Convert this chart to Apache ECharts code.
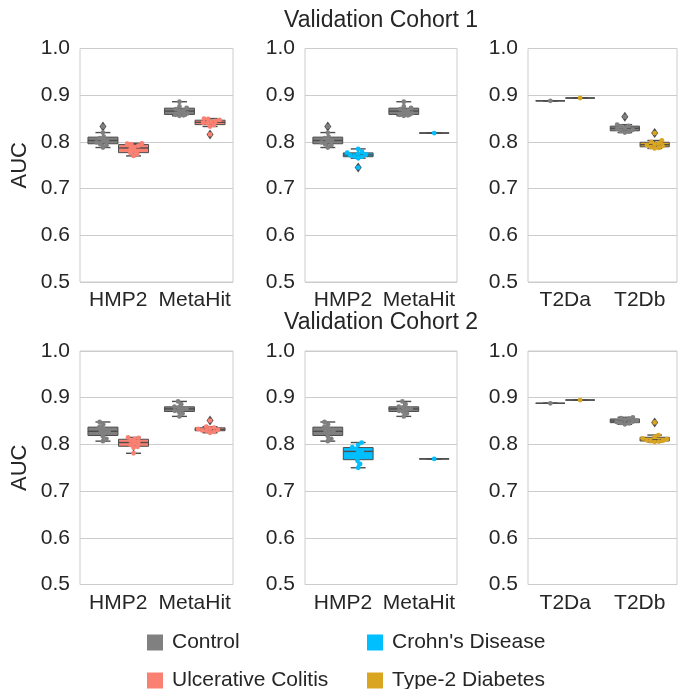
<!DOCTYPE html>
<html>
<head>
<meta charset="utf-8">
<script src="https://cdn.jsdelivr.net/npm/echarts@6/dist/echarts.min.js"></script>
<style>
  html, body { margin: 0; padding: 0; background: #ffffff; }
  #chart { width: 679px; height: 689px; }
</style>
</head>
<body>
<div id="chart"></div>
<script>
// ---- categories and ticks ----
const ibdSites = ['HMP2', 'MetaHit'];
const t2dSites = ['T2Da', 'T2Db'];
const cohortTitles = ['Validation Cohort 1', 'Validation Cohort 2'];
const yTicks = [0.5, 0.6, 0.7, 0.8, 0.9, 1.0];
const legendNames = ['Control', 'Ulcerative Colitis', "Crohn's Disease", 'Type-2 Diabetes'];

// ---- AUC per run, one list per site ----
// Validation Cohort 1
const c1ControlIbd = [
  [0.788, 0.793, 0.795, 0.799, 0.802, 0.804, 0.808, 0.811, 0.820, 0.833],
  [0.856, 0.857, 0.858, 0.861, 0.865, 0.867, 0.870, 0.873, 0.876, 0.886]
];
const c1UC = [
  [0.770, 0.774, 0.776, 0.780, 0.785, 0.789, 0.792, 0.795, 0.796, 0.797],
  [0.816, 0.833, 0.836, 0.840, 0.841, 0.843, 0.845, 0.847, 0.849, 0.850]
];
const c1CD = [
  [0.745, 0.765, 0.768, 0.769, 0.771, 0.773, 0.775, 0.777, 0.779, 0.785],
  [0.819]
];
const c1ControlT2d = [
  [0.888],
  [0.820, 0.822, 0.823, 0.826, 0.828, 0.830, 0.833, 0.834, 0.837, 0.854]
];
const c1T2D = [
  [0.894],
  [0.786, 0.787, 0.789, 0.791, 0.793, 0.795, 0.797, 0.800, 0.803, 0.819]
];
// Validation Cohort 2
const c2ControlIbd = [
  [0.807, 0.812, 0.817, 0.825, 0.827, 0.829, 0.834, 0.838, 0.843, 0.848],
  [0.860, 0.866, 0.870, 0.872, 0.875, 0.877, 0.879, 0.881, 0.886, 0.892]
];
const c2UC = [
  [0.781, 0.793, 0.795, 0.799, 0.803, 0.805, 0.808, 0.812, 0.814, 0.815],
  [0.825, 0.827, 0.829, 0.830, 0.831, 0.833, 0.834, 0.836, 0.838, 0.851]
];
const c2CD = [
  [0.750, 0.758, 0.765, 0.774, 0.783, 0.787, 0.791, 0.794, 0.799, 0.804],
  [0.769]
];
const c2ControlT2d = [
  [0.888],
  [0.843, 0.845, 0.846, 0.848, 0.849, 0.851, 0.853, 0.855, 0.856, 0.858]
];
const c2T2D = [
  [0.895],
  [0.805, 0.806, 0.807, 0.808, 0.809, 0.811, 0.813, 0.816, 0.820, 0.847]
];

// ---- styling ----
const FONT = '"Liberation Sans", Arial, Helvetica, sans-serif';
const hueColors = {
  'Control': '#808080',
  'Ulcerative Colitis': '#fa8072',
  "Crohn's Disease": '#00bfff',
  'Type-2 Diabetes': '#daa520'
};
const lineGray = '#4d4d4d';
const gridLine = '#cccccc';
const textColor = '#262626';

// panel layout: [cohort row][column]
const panels = [
  { row: 0, col: 0, sites: ibdSites, hues: ['Control', 'Ulcerative Colitis'], data: [c1ControlIbd, c1UC] },
  { row: 0, col: 1, sites: ibdSites, hues: ['Control', "Crohn's Disease"], data: [c1ControlIbd, c1CD] },
  { row: 0, col: 2, sites: t2dSites, hues: ['Control', 'Type-2 Diabetes'], data: [c1ControlT2d, c1T2D] },
  { row: 1, col: 0, sites: ibdSites, hues: ['Control', 'Ulcerative Colitis'], data: [c2ControlIbd, c2UC] },
  { row: 1, col: 1, sites: ibdSites, hues: ['Control', "Crohn's Disease"], data: [c2ControlIbd, c2CD] },
  { row: 1, col: 2, sites: t2dSites, hues: ['Control', 'Type-2 Diabetes'], data: [c2ControlT2d, c2T2D] }
];
const colLeft = [80, 305, 528];
const colWidth = [153, 152, 149];
const rowTop = [48.5, 351];
const rowHeight = 233.5;
// legend slots: two columns, two rows
const legendPos = [[147, 632], [147, 670], [367, 632], [367, 670]];

// ---- box statistics (linear percentiles, 1.5 IQR whiskers) ----
function quantile(sorted, q) {
  const pos = (sorted.length - 1) * q;
  const lo = Math.floor(pos), hi = Math.ceil(pos);
  return sorted[lo] + (sorted[hi] - sorted[lo]) * (pos - lo);
}
function boxStats(values) {
  const s = values.slice().sort((a, b) => a - b);
  const q1 = quantile(s, 0.25), med = quantile(s, 0.5), q3 = quantile(s, 0.75);
  const iqr = q3 - q1;
  const loFence = q1 - 1.5 * iqr, hiFence = q3 + 1.5 * iqr;
  const inside = s.filter(v => v >= loFence - 1e-12 && v <= hiFence + 1e-12);
  return {
    q1, med, q3,
    wLo: Math.min(q1, inside[0]),
    wHi: Math.max(q3, inside[inside.length - 1]),
    fliers: s.filter(v => v < loFence - 1e-12 || v > hiFence + 1e-12)
  };
}

// ---- beeswarm offsets in pixel space ----
function swarmOffsets(ys, d) {
  const order = ys.map((y, i) => i).sort((a, b) => ys[b] - ys[a]);
  const placed = [];
  const xs = new Array(ys.length).fill(0);
  order.forEach(i => {
    const y = ys[i];
    const cands = [0];
    placed.forEach(p => {
      const dy = Math.abs(p.y - y);
      if (dy < d) {
        const dx = Math.sqrt(d * d - dy * dy);
        cands.push(p.x + dx, p.x - dx);
      }
    });
    cands.sort((a, b) => Math.abs(a) - Math.abs(b));
    let chosen = cands[cands.length - 1];
    for (const c of cands) {
      const ok = placed.every(p => (p.x - c) * (p.x - c) + (p.y - y) * (p.y - y) >= d * d - 1e-6);
      if (ok) { chosen = c; break; }
    }
    placed.push({ x: chosen, y });
    xs[i] = chosen;
  });
  return xs;
}

function makeRenderer(groups, slot) {
  return function (params, api) {
    const cat = api.value(0);
    const values = groups[params.dataIndex];
    const st = boxStats(values);
    const color = api.visual('color');
    const band = api.size([1, 0])[0];
    const cx = api.coord([cat, 0.5])[0] + (slot === 0 ? -0.2 : 0.2) * band;
    const bw = 0.392 * band;
    const Y = v => api.coord([cat, v])[1];
    const children = [];
    const lw = 1.4;
    // whiskers
    children.push({ type: 'line', shape: { x1: cx, y1: Y(st.q3), x2: cx, y2: Y(st.wHi) }, style: { stroke: lineGray, lineWidth: lw } });
    children.push({ type: 'line', shape: { x1: cx, y1: Y(st.q1), x2: cx, y2: Y(st.wLo) }, style: { stroke: lineGray, lineWidth: lw } });
    // caps
    children.push({ type: 'line', shape: { x1: cx - bw / 4, y1: Y(st.wHi), x2: cx + bw / 4, y2: Y(st.wHi) }, style: { stroke: lineGray, lineWidth: lw } });
    children.push({ type: 'line', shape: { x1: cx - bw / 4, y1: Y(st.wLo), x2: cx + bw / 4, y2: Y(st.wLo) }, style: { stroke: lineGray, lineWidth: lw } });
    // box
    const yTop = Y(st.q3), yBot = Y(st.q1);
    children.push({ type: 'rect', shape: { x: cx - bw / 2, y: yTop, width: bw, height: yBot - yTop }, style: { fill: color, stroke: lineGray, lineWidth: 1 } });
    // median
    children.push({ type: 'line', shape: { x1: cx - bw / 2, y1: Y(st.med), x2: cx + bw / 2, y2: Y(st.med) }, style: { stroke: lineGray, lineWidth: lw } });
    // outliers (thin diamonds)
    st.fliers.forEach(v => {
      const y = Y(v);
      children.push({ type: 'polygon', shape: { points: [[cx, y - 5], [cx + 3.5, y], [cx, y + 5], [cx - 3.5, y]] }, style: { fill: lineGray } });
    });
    // swarm of individual runs
    const ys = values.map(Y);
    const xs = swarmOffsets(ys, 4.2);
    ys.forEach((y, i) => {
      children.push({ type: 'circle', shape: { cx: cx + xs[i], cy: y, r: 2.4 }, style: { fill: color } });
    });
    return { type: 'group', children };
  };
}

const grid = [], xAxis = [], yAxis = [], series = [];
panels.forEach((p, i) => {
  grid.push({
    left: colLeft[p.col], top: rowTop[p.row], width: colWidth[p.col], height: rowHeight,
    show: true, borderColor: gridLine, borderWidth: 1, backgroundColor: 'transparent'
  });
  xAxis.push({
    type: 'category', gridIndex: i, data: p.sites, boundaryGap: true,
    axisLine: { show: false }, axisTick: { show: false }, splitLine: { show: false },
    axisLabel: { interval: 0, fontSize: 21, color: textColor, fontFamily: FONT, margin: 8 }
  });
  yAxis.push({
    type: 'value', gridIndex: i,
    min: yTicks[0], max: yTicks[yTicks.length - 1], interval: 0.1,
    name: p.col === 0 ? 'AUC' : '', nameLocation: 'middle', nameGap: 49, nameRotate: 90,
    nameTextStyle: { fontSize: 22, color: textColor, fontFamily: FONT },
    axisLine: { show: false }, axisTick: { show: false },
    splitLine: { show: true, lineStyle: { color: gridLine, width: 1 } },
    axisLabel: { fontSize: 21, color: textColor, fontFamily: FONT, margin: 10, formatter: v => v.toFixed(1) }
  });
  p.hues.forEach((hue, slot) => {
    const groups = p.data[slot];
    series.push({
      type: 'custom', name: hue, xAxisIndex: i, yAxisIndex: i,
      itemStyle: { color: hueColors[hue] },
      renderItem: makeRenderer(groups, slot),
      data: groups.map((vals, k) => [k, boxStats(vals).med]),
      clip: false, z: 2
    });
  });
});

const legend = legendNames.map((name, k) => ({
  data: [name], left: legendPos[k][0], top: legendPos[k][1], orient: 'horizontal',
  itemWidth: 16, itemHeight: 16, icon: 'rect', selectedMode: false, padding: 0,
  textStyle: { fontSize: 21, color: textColor, fontFamily: FONT, padding: [0, 0, 0, 4] }
}));

const chart = echarts.init(document.getElementById('chart'), null, { renderer: 'canvas' });
chart.setOption({
  backgroundColor: '#ffffff',
  animation: false,
  grid, xAxis, yAxis, series, legend,
  graphic: cohortTitles.map((t, r) => ({
    type: 'text', x: colLeft[1] + colWidth[1] / 2, y: rowTop[r] - 28,
    style: { text: t, fill: textColor, font: '23px ' + FONT, textAlign: 'center', textVerticalAlign: 'middle' }
  }))
});
</script>
</body>
</html>
